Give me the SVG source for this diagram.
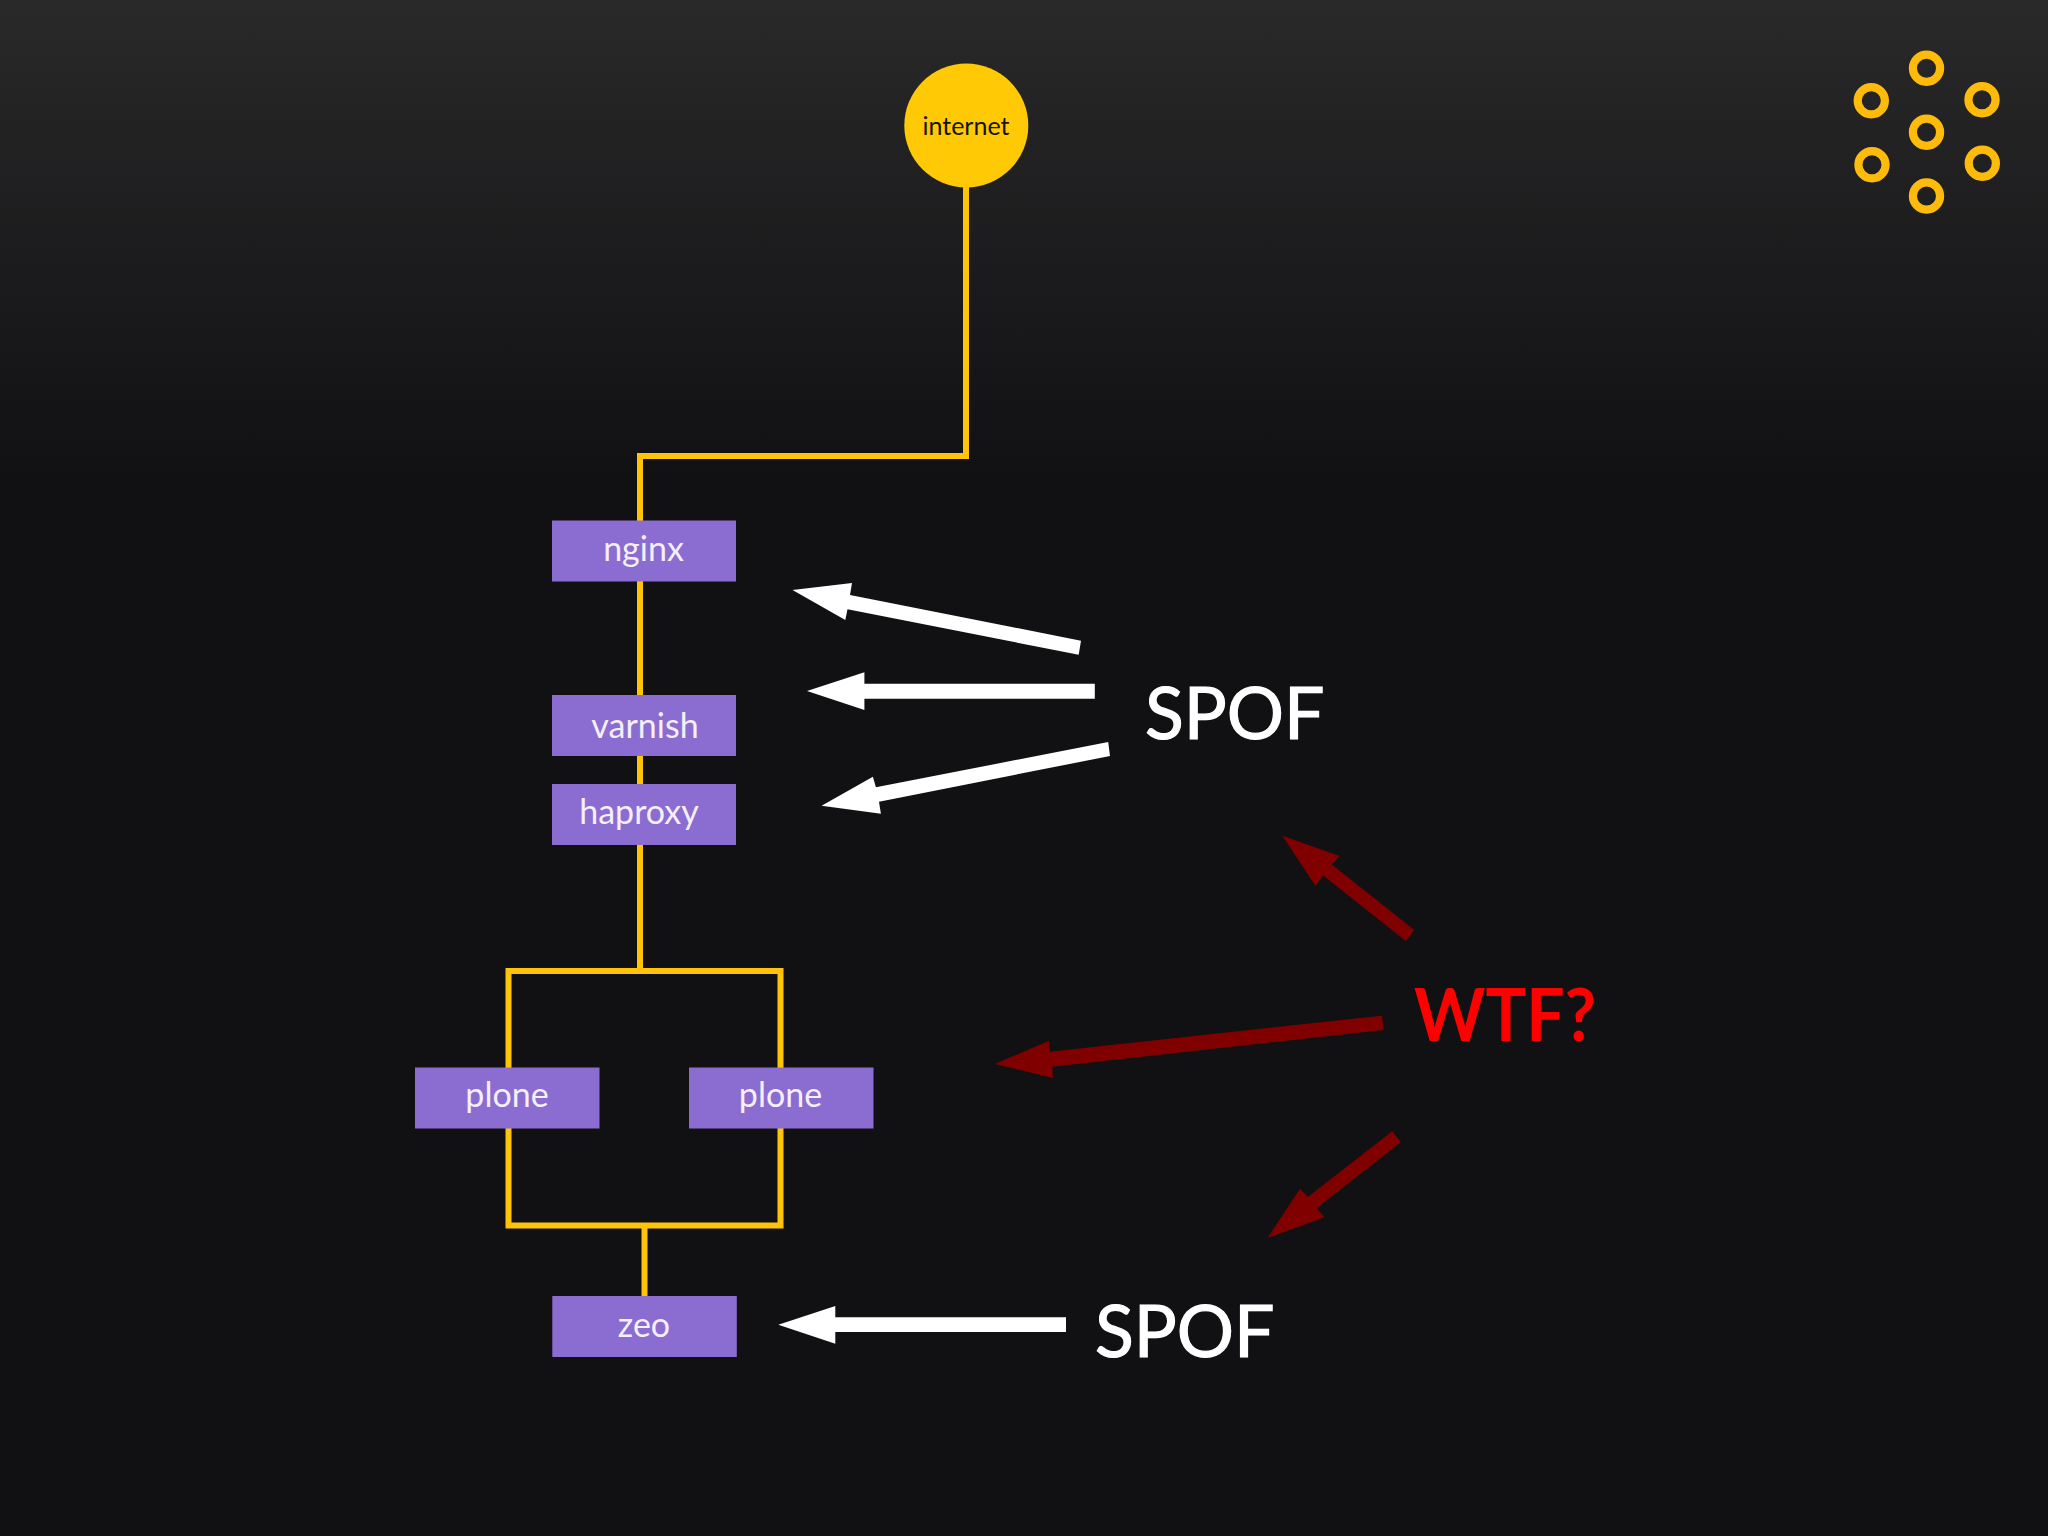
<svg xmlns="http://www.w3.org/2000/svg" width="2048" height="1536" viewBox="0 0 2048 1536">
<style>
.node{fill:#8b6cd0}
.label{font-family:"Lato","Noto Sans",sans-serif;font-size:34px;fill:#f4effa}
.big{font-family:"Lato","Noto Sans",sans-serif;font-size:72px}
.wire{fill:none;stroke:#ffc40a;stroke-width:6;stroke-linejoin:miter}
.white{fill:#fff}
.red{fill:#800000}
.ring{fill:none;stroke:#ffbb0c;stroke-width:8.200}
</style>
<defs><linearGradient id="bg" x1="0" y1="0" x2="0" y2="1"><stop offset="0" stop-color="#29292a"/><stop offset="0.31" stop-color="#111113"/><stop offset="1" stop-color="#111113"/></linearGradient></defs>
<rect width="2048" height="1536" fill="url(#bg)"/>
<g id="connectors">
<path class="wire" d="M966 180V456H640V521"/>
<path class="wire" d="M640 581V696"/>
<path class="wire" d="M640 756V784"/>
<path class="wire" d="M640 845V971"/>
<path class="wire" d="M508.500 1068V971H780.500V1068"/>
<path class="wire" d="M508.500 1128V1225.500H780.500V1128"/>
<path class="wire" d="M644.500 1225.500V1296"/>
</g>
<g id="arrows">
<polygon class="white" points="792.500,590 852,583 850,595 1081,640.700 1078.700,654.700 847.500,609.300 845.300,620"/>
<polygon class="white" points="807,691 864.400,672.300 864.400,683.700 1094.800,683.700 1094.800,698.700 864.400,698.700 864.400,710"/>
<polygon class="white" points="821.600,805.700 872.900,776.700 875.900,787.300 1108.200,742 1110,756 879,801.700 880.900,813.700"/>
<polygon class="white" points="778.300,1324.700 835.300,1306 835.300,1317.300 1066,1317.300 1066,1332 835.300,1332 835.300,1343.700"/>
<polygon class="red" points="1282.400,835.700 1339.600,856 1331.800,864.500 1414.300,930 1405.700,941 1323.200,875.500 1315.500,886"/>
<polygon class="red" points="995,1064 1049,1040.700 1049.800,1051.700 1382,1015.700 1383.700,1030 1052.200,1066.700 1053,1078"/>
<polygon class="red" points="1267.800,1237.700 1300,1188.700 1307.900,1197 1392.200,1131.300 1400.800,1142.300 1316.500,1208 1324.500,1217.300"/>
</g>
<g id="internet"><circle cx="966.300" cy="125.500" r="62" fill="#ffc906"/><text x="966" y="134.500" text-anchor="middle" font-family="Lato,'Noto Sans',sans-serif" font-size="25" fill="#16140c">internet</text></g>
<g id="nginx"><rect class="node" x="552" y="520.500" width="184" height="61"/><text class="label" x="643.500" y="560.500" text-anchor="middle">nginx</text></g>
<g id="varnish"><rect class="node" x="552" y="695" width="184" height="61"/><text class="label" x="645" y="737.500" text-anchor="middle">varnish</text></g>
<g id="haproxy"><rect class="node" x="552" y="784" width="184" height="61"/><text class="label" x="639" y="823.500" text-anchor="middle">haproxy</text></g>
<g id="plone-left"><rect class="node" x="415" y="1067.500" width="184.500" height="61"/><text class="label" x="507" y="1106.500" text-anchor="middle">plone</text></g>
<g id="plone-right"><rect class="node" x="689" y="1067.500" width="184.500" height="61"/><text class="label" x="780.500" y="1106.500" text-anchor="middle">plone</text></g>
<g id="zeo"><rect class="node" x="552.300" y="1296" width="184.500" height="61"/><text class="label" x="644" y="1336.500" text-anchor="middle">zeo</text></g>
<g id="spof-top"><text class="big" x="1145" y="738.500" fill="#fff" stroke="#fff" stroke-width="1.200" textLength="179.500" lengthAdjust="spacingAndGlyphs">SPOF</text></g>
<g id="spof-bottom"><text class="big" x="1095" y="1356.500" fill="#fff" stroke="#fff" stroke-width="1.200" textLength="179.500" lengthAdjust="spacingAndGlyphs">SPOF</text></g>
<g id="wtf"><text class="big" x="1414" y="1041" font-weight="700" fill="#ff0000" textLength="182" lengthAdjust="spacingAndGlyphs">WTF?</text></g>
<g id="logo">
<circle class="ring" cx="1926.500" cy="68.300" r="13.600"/>
<circle class="ring" cx="1871.300" cy="100.700" r="13.600"/>
<circle class="ring" cx="1982" cy="99.700" r="13.600"/>
<circle class="ring" cx="1926.500" cy="132.300" r="13.600"/>
<circle class="ring" cx="1872" cy="164.700" r="13.600"/>
<circle class="ring" cx="1982.300" cy="163.300" r="13.600"/>
<circle class="ring" cx="1926.500" cy="196" r="13.600"/>
</g>
</svg>
